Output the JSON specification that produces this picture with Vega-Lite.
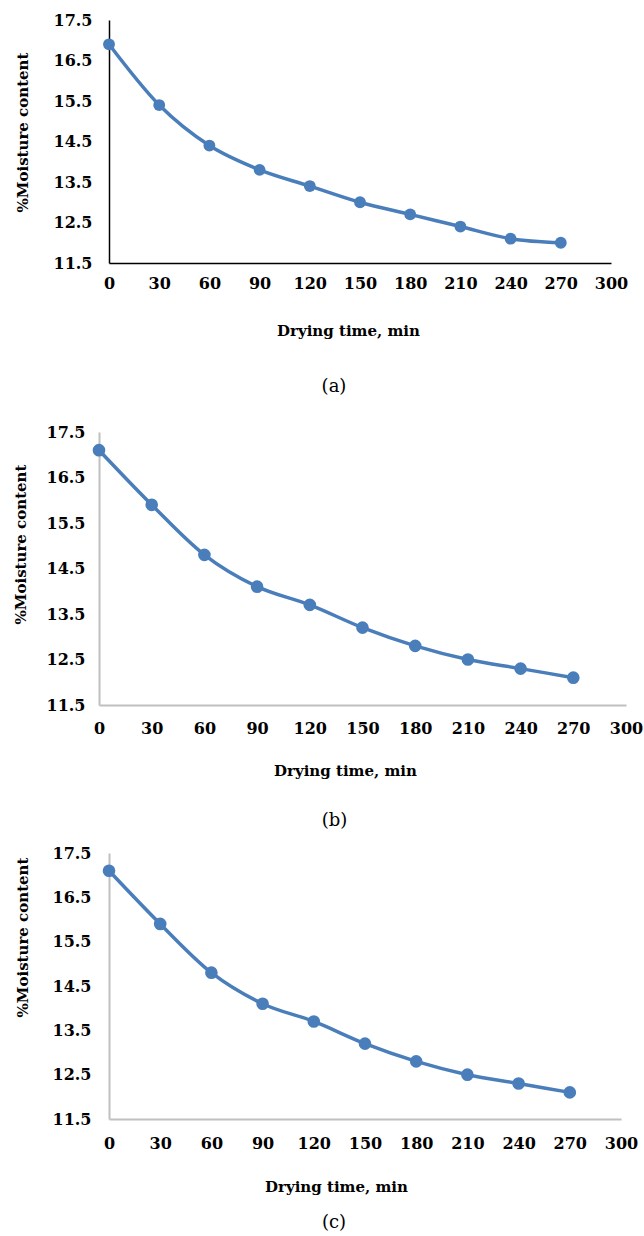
{
  "$schema": "https://vega.github.io/schema/vega-lite/v6.json",
  "padding": {"left": 12, "top": 12, "right": 0, "bottom": 0},
  "background": "white",
  "datasets": {
    "a": [
      {"time": 0, "moisture": 16.9}, {"time": 30, "moisture": 15.4}, {"time": 60, "moisture": 14.4},
      {"time": 90, "moisture": 13.8}, {"time": 120, "moisture": 13.4}, {"time": 150, "moisture": 13.0},
      {"time": 180, "moisture": 12.7}, {"time": 210, "moisture": 12.4}, {"time": 240, "moisture": 12.1},
      {"time": 270, "moisture": 12.0}
    ],
    "b": [
      {"time": 0, "moisture": 17.1}, {"time": 30, "moisture": 15.9}, {"time": 60, "moisture": 14.8},
      {"time": 90, "moisture": 14.1}, {"time": 120, "moisture": 13.7}, {"time": 150, "moisture": 13.2},
      {"time": 180, "moisture": 12.8}, {"time": 210, "moisture": 12.5}, {"time": 240, "moisture": 12.3},
      {"time": 270, "moisture": 12.1}
    ],
    "c": [
      {"time": 0, "moisture": 17.1}, {"time": 30, "moisture": 15.9}, {"time": 60, "moisture": 14.8},
      {"time": 90, "moisture": 14.1}, {"time": 120, "moisture": 13.7}, {"time": 150, "moisture": 13.2},
      {"time": 180, "moisture": 12.8}, {"time": 210, "moisture": 12.5}, {"time": 240, "moisture": 12.3},
      {"time": 270, "moisture": 12.1}
    ]
  },
  "config": {
    "view": {"stroke": null},
    "axis": {
      "grid": false, "ticks": false, "tickSize": 0,
      "labelFont": "DejaVu Serif", "labelFontWeight": "bold", "labelFontSize": 16, "labelColor": "#000000",
      "titleFont": "DejaVu Serif", "titleFontWeight": "bold", "titleColor": "#000000",
      "labelFlush": false, "labelOverlap": false, "labelBound": false
    },
    "axisX": {"titleFontSize": 15},
    "axisY": {"titleFontSize": 15, "titleBaseline": "middle", "titleAlign": "center", "titleAngle": -90},
    "title": {"font": "DejaVu Serif", "fontSize": 18, "fontWeight": "normal", "color": "#000000", "frame": "group", "anchor": "middle"}
  },
  "bounds": "flush",
  "spacing": 169,
  "vconcat": [
    {
      "width": 502, "height": 243,
      "data": {"name": "a"},
      "title": {"text": "(a)", "orient": "bottom", "offset": 40, "dx": -26},
      "encoding": {
        "x": {"field": "time", "type": "quantitative",
          "scale": {"domain": [0, 300], "nice": false, "zero": false},
          "axis": {"values": [0, 30, 60, 90, 120, 150, 180, 210, 240, 270, 300], "title": "Drying time, min",
            "labelPadding": 12, "titlePadding": 32, "titleX": 239, "domainColor": "#000000", "domainWidth": 1.5}},
        "y": {"field": "moisture", "type": "quantitative",
          "scale": {"domain": [11.5, 17.5], "nice": false, "zero": false},
          "axis": {"values": [11.5, 12.5, 13.5, 14.5, 15.5, 16.5, 17.5], "format": ".1f", "title": "%Moisture content",
            "labelPadding": 17, "titleX": -87, "titleY": 112, "domainColor": "#000000", "domainWidth": 1.5}}
      },
      "layer": [
        {"mark": {"type": "line", "interpolate": "monotone", "color": "#4a7ebb", "strokeWidth": 3.5}},
        {"mark": {"type": "point", "filled": true, "size": 140, "color": "#4a7ebb", "opacity": 1}}
      ]
    },
    {
      "bounds": "flush",
      "spacing": 148,
      "vconcat": [
        {
          "width": 517, "height": 273,
          "data": {"name": "b"},
          "title": {"text": "(b)", "orient": "bottom", "offset": 34, "dx": -33},
          "encoding": {
            "x": {"field": "time", "type": "quantitative",
              "scale": {"domain": [0, 300], "nice": false, "zero": false, "range": [-10, 517]},
              "axis": {"values": [0, 30, 60, 90, 120, 150, 180, 210, 240, 270, 300], "title": "Drying time, min",
                "labelPadding": 15, "titlePadding": 27, "titleX": 236, "domainColor": "#c0c0c0", "domainWidth": 2}},
            "y": {"field": "moisture", "type": "quantitative",
              "scale": {"domain": [11.5, 17.5], "nice": false, "zero": false},
              "axis": {"values": [11.5, 12.5, 13.5, 14.5, 15.5, 16.5, 17.5], "format": ".1f", "title": "%Moisture content",
                "offset": 10, "labelPadding": 14, "titleX": -79, "titleY": 112, "domainColor": "#c0c0c0", "domainWidth": 2}}
          },
          "layer": [
            {"mark": {"type": "line", "interpolate": "monotone", "color": "#4a7ebb", "strokeWidth": 3.5}},
            {"mark": {"type": "point", "filled": true, "size": 160, "color": "#4a7ebb", "opacity": 1}}
          ]
        },
        {
          "width": 512, "height": 266,
          "data": {"name": "c"},
          "title": {"text": "(c)", "orient": "bottom", "offset": 20, "dx": -31},
          "encoding": {
            "x": {"field": "time", "type": "quantitative",
              "scale": {"domain": [0, 300], "nice": false, "zero": false},
              "axis": {"values": [0, 30, 60, 90, 120, 150, 180, 210, 240, 270, 300], "title": "Drying time, min",
                "labelPadding": 16, "titlePadding": 28, "titleX": 227, "domainColor": "#c0c0c0", "domainWidth": 2}},
            "y": {"field": "moisture", "type": "quantitative",
              "scale": {"domain": [11.5, 17.5], "nice": false, "zero": false},
              "axis": {"values": [11.5, 12.5, 13.5, 14.5, 15.5, 16.5, 17.5], "format": ".1f", "title": "%Moisture content",
                "labelPadding": 18, "titleX": -87, "titleY": 84, "domainColor": "#c0c0c0", "domainWidth": 2}}
          },
          "layer": [
            {"mark": {"type": "line", "interpolate": "monotone", "color": "#4a7ebb", "strokeWidth": 3.5}},
            {"mark": {"type": "point", "filled": true, "size": 160, "color": "#4a7ebb", "opacity": 1}}
          ]
        }
      ]
    }
  ]
}
